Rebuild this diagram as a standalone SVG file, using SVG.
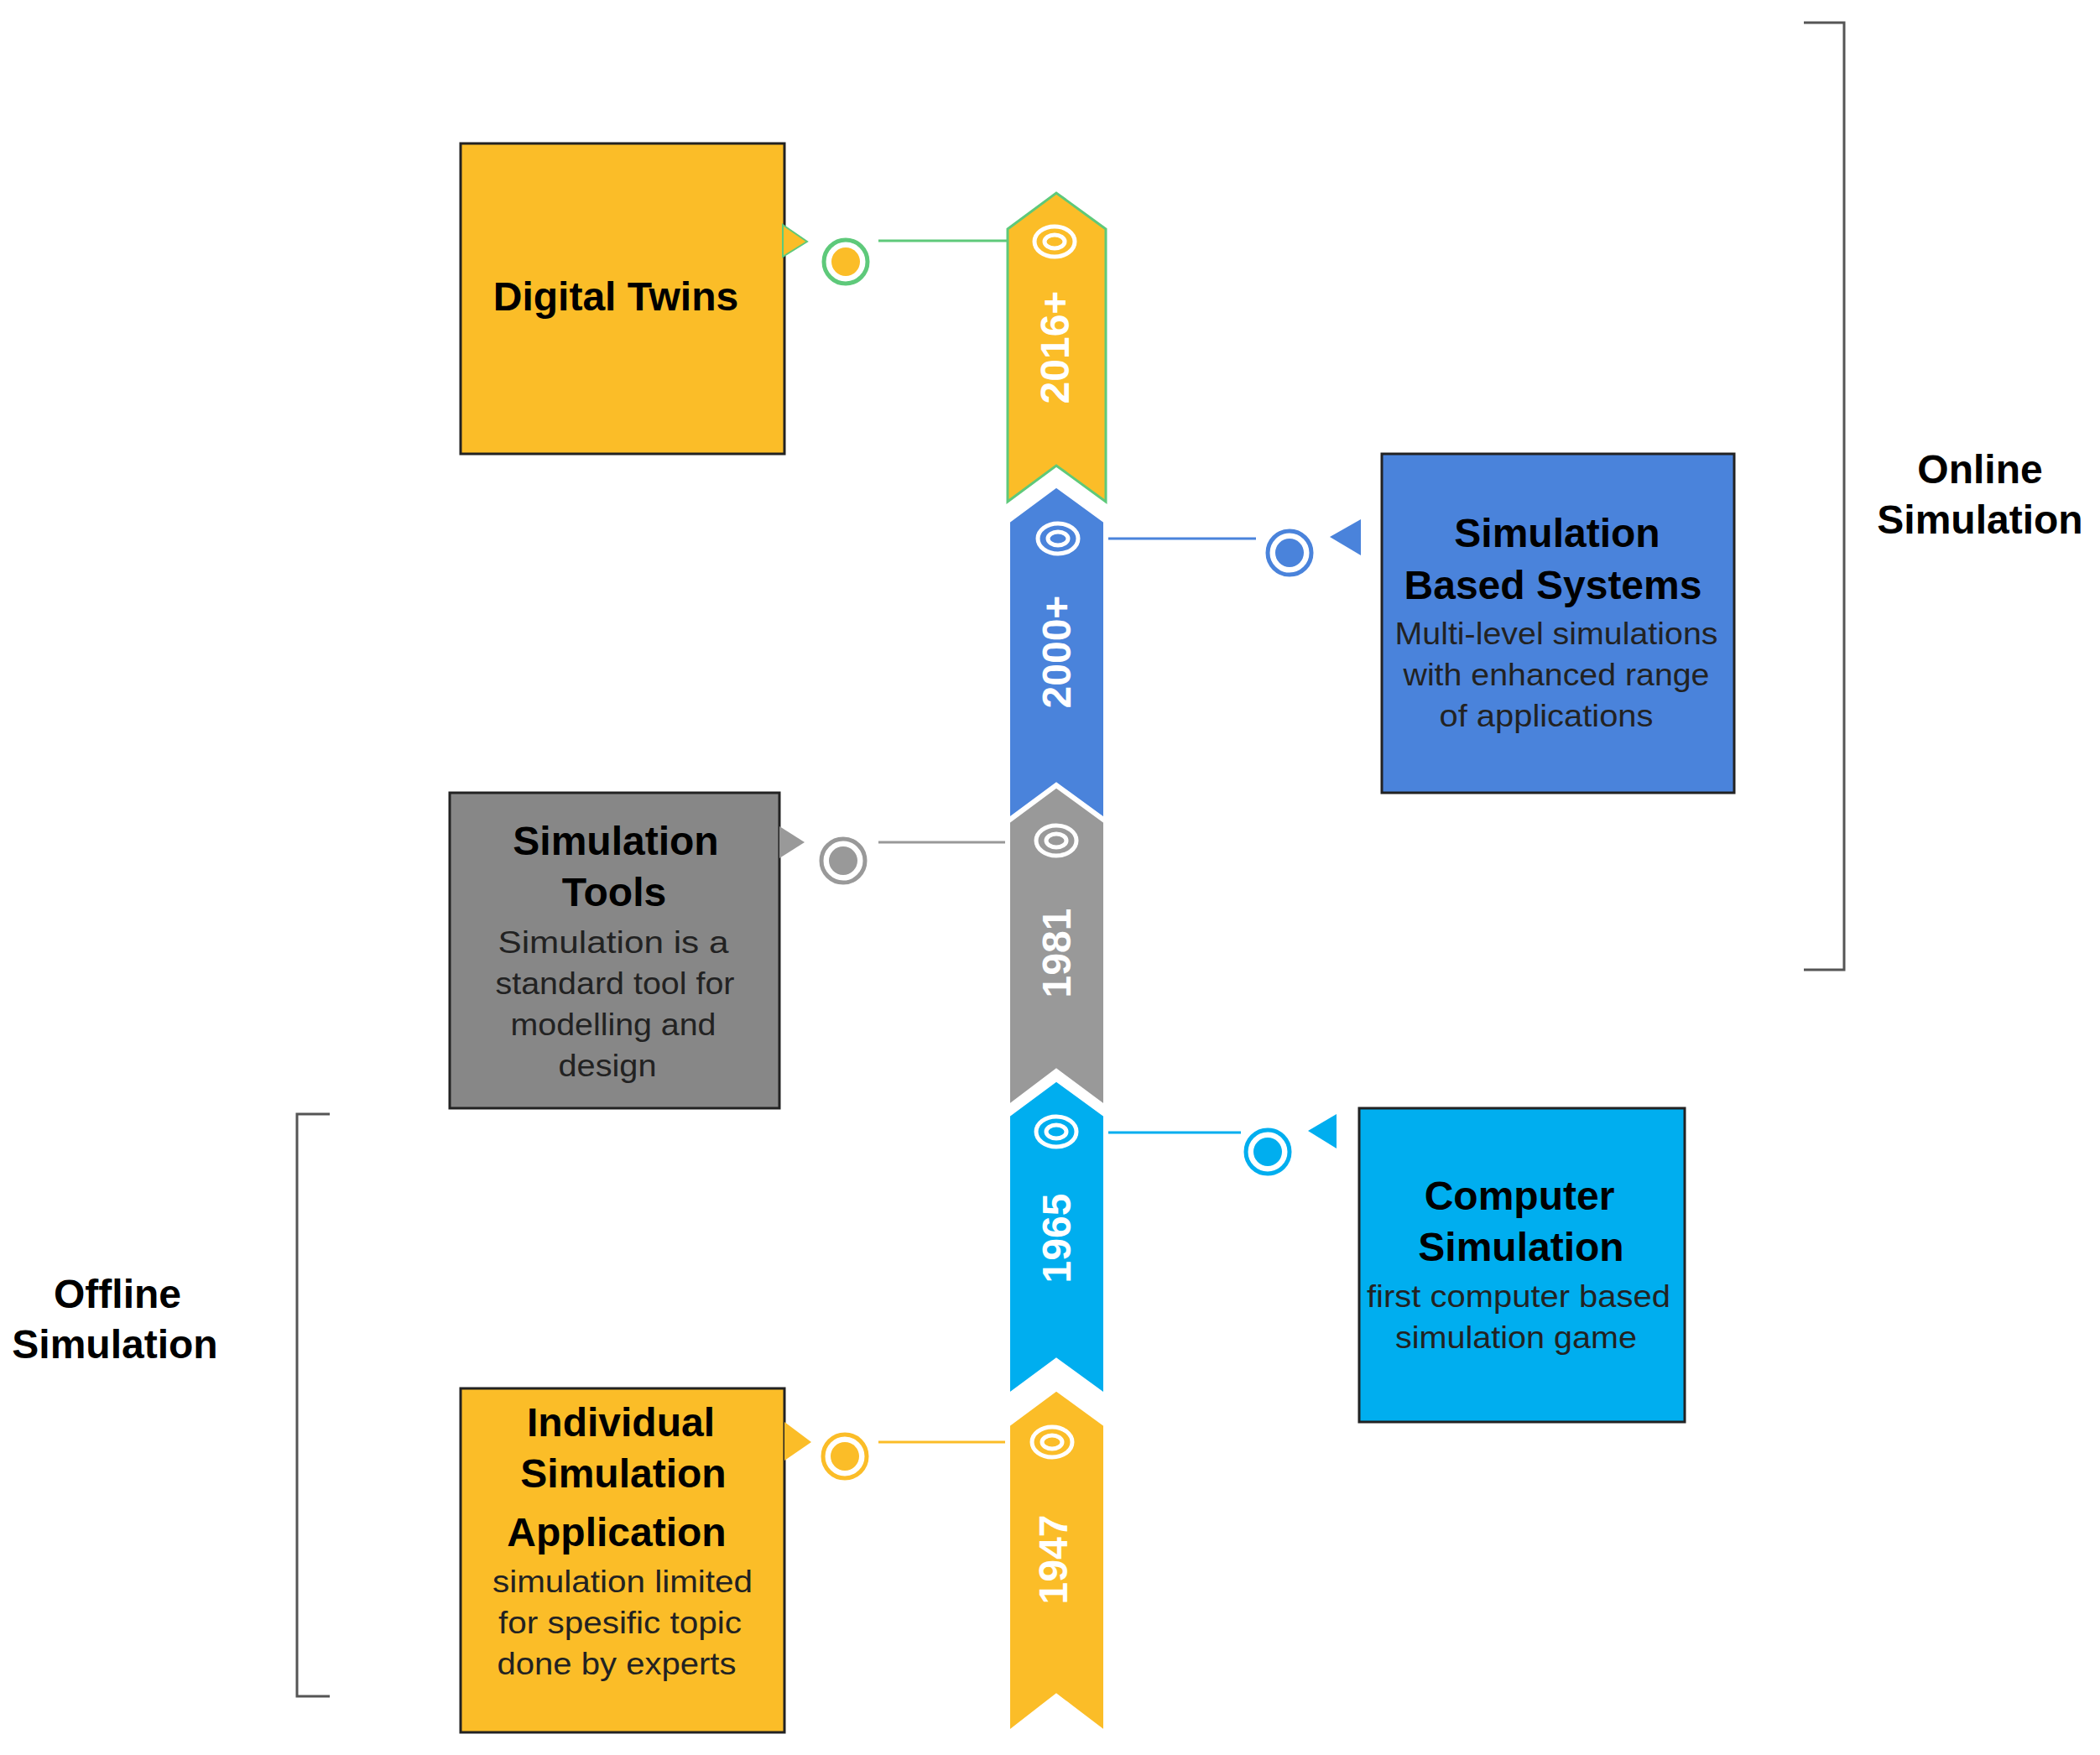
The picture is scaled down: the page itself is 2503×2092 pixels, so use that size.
<svg xmlns="http://www.w3.org/2000/svg" width="2503" height="2092" viewBox="0 0 2503 2092">
<style>
text{font-family:"Liberation Sans",Arial,sans-serif;text-anchor:middle}
.t{font-weight:bold;font-size:48px;fill:#000}
.d{font-size:37px;fill:#222}
.y{font-weight:bold;font-size:48px;fill:#fff}
.box{stroke:#222;stroke-width:3}
.eye{fill:none;stroke:#fff;stroke-width:5}
.br{fill:none;stroke:#555;stroke-width:3}
</style>
<rect width="2503" height="2092" fill="#fff"/>
<g id="connectors" stroke-width="3">
<line x1="1047" y1="287" x2="1201" y2="287" stroke="#5ec97a"/>
<line x1="1318" y1="642" x2="1497" y2="642" stroke="#4a83db"/>
<line x1="1047" y1="1004" x2="1201" y2="1004" stroke="#999"/>
<line x1="1318" y1="1350" x2="1479" y2="1350" stroke="#00aeef"/>
<line x1="1047" y1="1719" x2="1201" y2="1719" stroke="#fbbd28"/>
</g>
<g id="ribbons">
<g id="r2016"><polygon points="1201,273 1259,230 1318,273 1318,598 1259,555 1201,598" fill="#fbbd28" stroke="#5ec97a" stroke-width="3"/>
<ellipse cx="1257" cy="288" rx="24" ry="18" class="eye"/><ellipse cx="1257" cy="288" rx="12" ry="8" class="eye"/>
<text class="y" transform="translate(1274,414) rotate(-90)">2016+</text></g>
<g id="r2000"><polygon points="1201,621 1259,578 1318,621 1318,980 1259,938 1201,980" fill="#4a83db" stroke="#fff" stroke-width="6"/>
<ellipse cx="1261" cy="642" rx="24" ry="18" class="eye"/><ellipse cx="1261" cy="642" rx="12" ry="8" class="eye"/>
<text class="y" transform="translate(1276,777) rotate(-90)">2000+</text></g>
<g id="r1981"><polygon points="1201,979 1259,936 1318,979 1318,1321 1259,1277 1201,1321" fill="#999" stroke="#fff" stroke-width="6"/>
<ellipse cx="1259" cy="1002" rx="24" ry="18" class="eye"/><ellipse cx="1259" cy="1002" rx="12" ry="8" class="eye"/>
<text class="y" transform="translate(1276,1136) rotate(-90)">1981</text></g>
<g id="r1965"><polygon points="1201,1329 1259,1286 1318,1329 1318,1665 1259,1622 1201,1665" fill="#00aeef" stroke="#fff" stroke-width="6"/>
<ellipse cx="1259" cy="1349" rx="24" ry="18" class="eye"/><ellipse cx="1259" cy="1349" rx="12" ry="8" class="eye"/>
<text class="y" transform="translate(1276,1476) rotate(-90)">1965</text></g>
<g id="r1947"><polygon points="1201,1698 1259,1655 1318,1698 1318,2067 1259,2022 1201,2067" fill="#fbbd28" stroke="#fff" stroke-width="6"/>
<ellipse cx="1254" cy="1719" rx="24" ry="18" class="eye"/><ellipse cx="1254" cy="1719" rx="12" ry="8" class="eye"/>
<text class="y" transform="translate(1272,1859) rotate(-90)">1947</text></g>
</g>
<g id="dt">
<rect x="549" y="171" width="386" height="370" fill="#fbbd28" class="box"/>
<polygon points="933,268 962,288 933,306" fill="#fbbd28" stroke="#5ec97a" stroke-width="2"/>
<circle cx="1008" cy="312" r="26" fill="#fff" stroke="#5ec97a" stroke-width="5"/><circle cx="1008" cy="312" r="17" fill="#fbbd28"/>
<text class="t" x="734" y="370">Digital Twins</text>
</g>
<g id="sbs">
<rect x="1647" y="541" width="420" height="404" fill="#4a83db" class="box"/>
<polygon points="1585,640 1622,619 1622,662" fill="#4a83db"/>
<circle cx="1537" cy="659" r="26" fill="#fff" stroke="#4a83db" stroke-width="5"/><circle cx="1537" cy="659" r="17" fill="#4a83db"/>
<text class="t" x="1856" y="652">Simulation</text>
<text class="t" x="1851" y="714">Based Systems</text>
<text class="d" x="1855" y="768" textLength="385" lengthAdjust="spacingAndGlyphs">Multi-level simulations</text>
<text class="d" x="1855" y="817" textLength="365" lengthAdjust="spacingAndGlyphs">with enhanced range</text>
<text class="d" x="1843" y="866" textLength="255" lengthAdjust="spacingAndGlyphs">of applications</text>
</g>
<g id="st">
<rect x="536" y="945" width="393" height="376" fill="#878787" class="box"/>
<polygon points="929,985 959,1004 929,1023" fill="#999"/>
<circle cx="1005" cy="1026" r="26" fill="#fff" stroke="#999" stroke-width="5"/><circle cx="1005" cy="1026" r="17" fill="#999"/>
<text class="t" x="734" y="1019">Simulation</text>
<text class="t" x="732" y="1080">Tools</text>
<text class="d" x="731" y="1136" textLength="275" lengthAdjust="spacingAndGlyphs">Simulation is a</text>
<text class="d" x="733" y="1185" textLength="285" lengthAdjust="spacingAndGlyphs">standard tool for</text>
<text class="d" x="731" y="1234" textLength="245" lengthAdjust="spacingAndGlyphs">modelling and</text>
<text class="d" x="724" y="1283" textLength="117" lengthAdjust="spacingAndGlyphs">design</text>
</g>
<g id="cs">
<rect x="1620" y="1321" width="388" height="374" fill="#00aeef" class="box"/>
<polygon points="1559,1348 1593,1328 1593,1369" fill="#00aeef"/>
<circle cx="1511" cy="1373" r="26" fill="#fff" stroke="#00aeef" stroke-width="5"/><circle cx="1511" cy="1373" r="17" fill="#00aeef"/>
<text class="t" x="1811" y="1442">Computer</text>
<text class="t" x="1813" y="1503">Simulation</text>
<text class="d" x="1810" y="1558" textLength="362" lengthAdjust="spacingAndGlyphs">first computer based</text>
<text class="d" x="1807" y="1607" textLength="288" lengthAdjust="spacingAndGlyphs">simulation game</text>
</g>
<g id="isa">
<rect x="549" y="1655" width="386" height="410" fill="#fbbd28" class="box"/>
<polygon points="935,1695 967,1719 935,1741" fill="#fbbd28"/>
<circle cx="1007" cy="1736" r="26" fill="#fff" stroke="#fbbd28" stroke-width="5"/><circle cx="1007" cy="1736" r="17" fill="#fbbd28"/>
<text class="t" x="740" y="1712">Individual</text>
<text class="t" x="743" y="1773">Simulation</text>
<text class="t" x="735" y="1843">Application</text>
<text class="d" x="742" y="1898" textLength="310" lengthAdjust="spacingAndGlyphs">simulation limited</text>
<text class="d" x="739" y="1947" textLength="290" lengthAdjust="spacingAndGlyphs">for spesific topic</text>
<text class="d" x="735" y="1996" textLength="285" lengthAdjust="spacingAndGlyphs">done by experts</text>
</g>
<g id="online">
<polyline points="2150,27 2198,27 2198,1156 2150,1156" class="br"/>
<text class="t" x="2360" y="576">Online</text>
<text class="t" x="2360" y="636">Simulation</text>
</g>
<g id="offline">
<polyline points="393,1328 354,1328 354,2022 393,2022" class="br"/>
<text class="t" x="140" y="1559">Offline</text>
<text class="t" x="137" y="1619">Simulation</text>
</g>
</svg>
